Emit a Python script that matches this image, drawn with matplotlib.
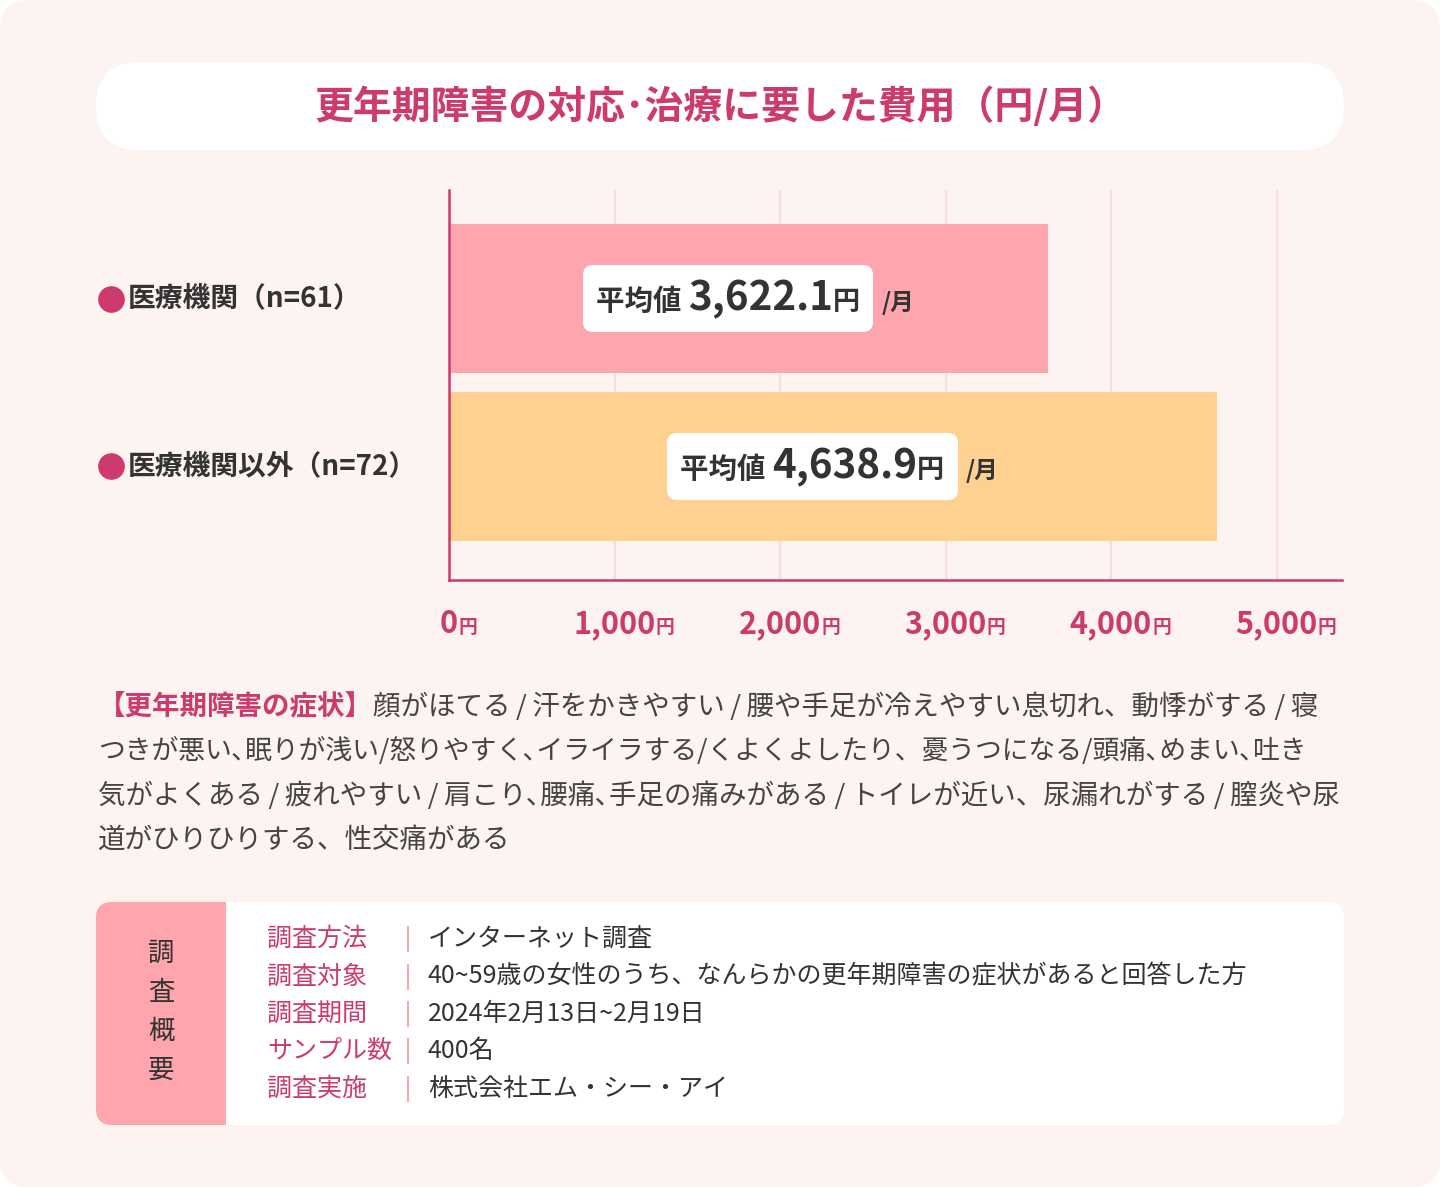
import matplotlib
matplotlib.use('Agg')
import matplotlib.pyplot as plt
from matplotlib.patches import FancyBboxPatch, Rectangle
from matplotlib.offsetbox import TextArea, HPacker, PaddedBox, AnnotationBbox

plt.rcParams['font.family'] = ['Noto Sans CJK JP', 'DejaVu Sans']

# ---- data ----
title = '更年期障害の対応･治療に要した費用（円/月）'
categories = ['医療機関（n=61）', '医療機関以外（n=72）']
values = [3622.1, 4638.9]
bar_colors = ['#fea5ad', '#fed190']
xticks = [0, 1000, 2000, 3000, 4000, 5000]

symptom_head = '【更年期障害の症状】'
symptom_lines = [
    '顔がほてる\u2009/\u2009汗をかきやすい\u2009/\u2009腰や手足が冷えやすい息切れ、動悸がする\u2009/\u2009寝',
    'つきが悪い､眠りが浅い/怒りやすく､イライラする/くよくよしたり、憂うつになる/頭痛､めまい､吐き',
    '気がよくある\u2009/\u2009疲れやすい\u2009/\u2009肩こり､腰痛､手足の痛みがある\u2009/\u2009トイレが近い、尿漏れがする\u2009/\u2009膣炎や尿',
    '道がひりひりする、性交痛がある',
]
# the second line is set a touch tighter, as in the original layout
symptom_sizes = [19.8, 19.3, 19.8, 19.8]
survey_title = '調査概要'
survey_keys = ['調査方法', '調査対象', '調査期間', 'サンプル数', '調査実施']
survey_vals = ['インターネット調査',
               '40~59歳の女性のうち、なんらかの更年期障害の症状があると回答した方',
               '2024年2月13日~2月19日',
               '400名',
               '株式会社エム・シー・アイ']

# ---- colours ----
BG = '#fdf3f0'
PINK = '#cc3a6e'
DARK = '#333333'
TEXT = '#444444'

W, H = 1440, 1187
fig = plt.figure(figsize=(W / 100, H / 100), dpi=100, facecolor='white')

# background layer in pixel coordinates
bg = fig.add_axes([0, 0, 1, 1])
bg.set_xlim(0, W)
bg.set_ylim(H, 0)
bg.axis('off')

bg.add_patch(FancyBboxPatch((0, 0), W, H, boxstyle='round,pad=0,rounding_size=28',
                            facecolor=BG, edgecolor='none'))

# title pill
bg.add_patch(FancyBboxPatch((96, 62), 1248, 88, boxstyle='round,pad=0,rounding_size=44',
                            facecolor='white', edgecolor='none'))
bg.text(720, 107, title, ha='center', va='center', fontsize=28, fontweight='bold', color=PINK)

# ---- bar chart ----
AX_L, AX_R, AX_T, AX_B = 449, 1342, 190, 580
AX_W = AX_R - AX_L
ax = fig.add_axes([AX_L / W, 1 - AX_B / H, AX_W / W, (AX_B - AX_T) / H])
ax.set_facecolor('none')

ypos = list(range(len(categories)))
ax.barh(ypos, values, height=0.887, color=bar_colors, zorder=2)
ax.set_xlim(0, (AX_R - AX_L) / 0.1655)
ax.set_ylim(1.676, -0.646)

ax.set_xticks(xticks)
ax.set_yticks([])
ax.tick_params(axis='x', length=0, labelbottom=False)
ax.grid(axis='x', color='#f7dde1', linewidth=1.6, zorder=0)
ax.set_axisbelow(True)
for s in ['top', 'right']:
    ax.spines[s].set_visible(False)
for s in ['left', 'bottom']:
    ax.spines[s].set_color(PINK)
    ax.spines[s].set_linewidth(1.8)


def ax_x(px):
    return (px - AX_L) / AX_W


# category labels with bullets
ytr = ax.get_yaxis_transform()
for i, cat in enumerate(categories):
    ax.scatter([ax_x(110.5)], [i], s=330, color=PINK, transform=ytr, clip_on=False, zorder=3)
    ax.text(ax_x(128), i, cat, transform=ytr, ha='left', va='center',
            fontsize=20, fontweight='bold', color=DARK, clip_on=False)

# x tick labels: number centred on tick + small 円
xtr = ax.get_xaxis_transform()
lab_y = (AX_B - 633) / (AX_B - AX_T)
for t in xticks:
    num = ax.text(t, lab_y, f'{t:,}', transform=xtr, ha='center', va='baseline',
                  fontsize=22, fontweight='bold', color=PINK, clip_on=False)
    ax.annotate('円', xy=(1, lab_y), xycoords=(num, xtr), ha='left', va='baseline',
                fontsize=13.5, fontweight='bold', color=PINK, annotation_clip=False)

# value boxes
for i, v in enumerate(values):
    parts = [
        TextArea('平均値 ', textprops=dict(fontsize=20.5, fontweight='bold', color=DARK)),
        TextArea(f'{v:,.1f}', textprops=dict(fontsize=29, fontweight='bold', color=DARK)),
        TextArea('円', textprops=dict(fontsize=19.5, fontweight='bold', color=DARK)),
    ]
    inner = HPacker(children=parts, align='baseline', pad=0, sep=0)
    box = PaddedBox(inner, pad=9.5, draw_frame=True,
                    patch_attrs=dict(facecolor='white', edgecolor='none',
                                     boxstyle='round,pad=0,rounding_size=10'))
    unit = TextArea('/月', textprops=dict(fontsize=17, fontweight='bold', color=DARK))
    group = HPacker(children=[box, unit], align='baseline', pad=0, sep=6)
    ab = AnnotationBbox(group, (v / 2, i), xycoords='data', frameon=False,
                        box_alignment=(0.5, 0.5), pad=0, zorder=4)
    ax.add_artist(ab)

# ---- symptom paragraph ----
line_y = [707, 751, 796, 840]
head = bg.text(98, line_y[0], symptom_head, ha='left', va='center',
               fontsize=symptom_sizes[0], fontweight='bold', color=PINK)
bg.annotate(symptom_lines[0], xy=(1, line_y[0]), xycoords=(head, bg.transData),
            ha='left', va='center', fontsize=symptom_sizes[0], color=TEXT)
for y, line, fs in zip(line_y[1:], symptom_lines[1:], symptom_sizes[1:]):
    bg.text(98, y, line, ha='left', va='center', fontsize=fs, color=TEXT)

# ---- survey outline box ----
bx0, bx1, by0, by1 = 96, 1344, 902, 1125
bg.add_patch(FancyBboxPatch((bx0, by0), bx1 - bx0, by1 - by0,
                            boxstyle='round,pad=0,rounding_size=16',
                            facecolor='white', edgecolor='none'))
bg.add_patch(FancyBboxPatch((bx0, by0), 226 - bx0, by1 - by0,
                            boxstyle='round,pad=0,rounding_size=16',
                            facecolor='#fea5ad', edgecolor='none'))
bg.add_patch(Rectangle((190, by0), 36, by1 - by0, facecolor='#fea5ad', edgecolor='none'))

for k, ch in enumerate(survey_title):
    bg.text(161, 953 + 39 * k, ch, ha='center', va='center', fontsize=19, color=DARK)

row_y = [939, 976.5, 1014, 1051, 1088.5]
for y, key, val in zip(row_y, survey_keys, survey_vals):
    bg.text(267, y, key, ha='left', va='center', fontsize=18, color=PINK)
    bg.plot([408, 408], [y - 12, y + 12], color='#f4a8b0', linewidth=1.5)
    bg.text(428, y, val, ha='left', va='center', fontsize=18, color=DARK)

fig.savefig('out.png', dpi=100, facecolor='white')
